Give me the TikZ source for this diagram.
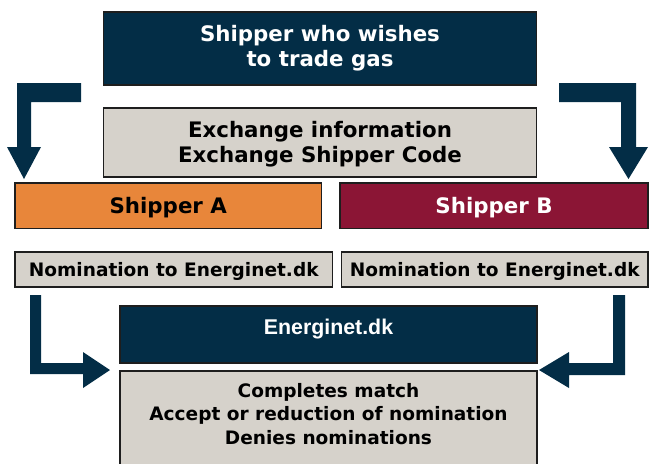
\documentclass[tikz,border=0pt]{standalone}
\usepackage{fontspec}
\setmainfont{DejaVu Sans}
\newfontfamily\arialfam{Liberation Sans}
\definecolor{navy}{RGB}{3,45,70}
\definecolor{boxgray}{RGB}{214,210,203}
\definecolor{shiporange}{RGB}{232,134,58}
\definecolor{shipred}{RGB}{139,21,53}
\definecolor{edge}{RGB}{30,30,30}
\begin{document}
\begin{tikzpicture}[x=0.75pt,y=-0.75pt,
  box/.style={rectangle, draw=edge, line width=1.3pt, inner sep=0pt},
  bigtxt/.style={font=\fontsize{16}{19}\selectfont\bfseries, align=center},
  smalltxt/.style={font=\fontsize{13.9}{17.6}\selectfont\bfseries, align=center},
  arrowfill/.style={fill=navy}
]
\useasboundingbox (0,0) rectangle (650,464);
\clip (0,0) rectangle (650,464);

% boxes
\node[box, fill=navy, minimum width=324.75pt, minimum height=54.75pt,
  label={[bigtxt, text=white, yshift=0.4pt]center:{Shipper who wishes\\to trade gas}}]
  (top) at (320,48.5) {};
\node[box, fill=boxgray, minimum width=324.75pt, minimum height=51.75pt,
  label={[bigtxt, yshift=-1.4pt]center:{Exchange information\\Exchange Shipper Code}}]
  (exch) at (320,142.5) {};
\node[box, fill=shiporange, minimum width=229.9pt, minimum height=34.1pt,
  label={[bigtxt, yshift=-1.5pt]center:{Shipper A}}]
  (shipA) at (168.25,205.75) {};
\node[box, fill=shipred, minimum width=231pt, minimum height=34.1pt,
  label={[bigtxt, text=white, yshift=-1.5pt]center:{Shipper B}}]
  (shipB) at (494,205.75) {};
\node[box, fill=boxgray, minimum width=238.1pt, minimum height=26.25pt,
  label={[smalltxt, yshift=-1.8pt]center:{Nomination to Energinet.dk}}]
  (nomA) at (173.75,269.5) {};
\node[box, fill=boxgray, minimum width=229.9pt, minimum height=26.25pt,
  label={[smalltxt, yshift=-1.8pt]center:{Nomination to Energinet.dk}}]
  (nomB) at (494.75,269.5) {};
\node[box, fill=navy, minimum width=312.75pt, minimum height=42.75pt]
  (ener) at (328.5,334.5) {};
\node[text=white, font=\fontsize{16}{18}\selectfont\arialfam\bfseries]
  (enertxt) at (328.5,329.5) {Energinet.dk};
\node[box, fill=boxgray, minimum width=312.75pt, minimum height=75.75pt]
  (result) at (328.5,421.5) {};
\node[smalltxt]
  (resulttxt) at (328.5,414) {Completes match\\Accept or reduction of nomination\\Denies nominations};

% block arrows
\fill[arrowfill] (81,83) -- (17,83) -- (17,147) -- (7,147) -- (24,179) -- (41,147)
  -- (31,147) -- (31,102) -- (81,102) -- cycle;
\fill[arrowfill] (559,83) -- (636,83) -- (636,147) -- (648,147) -- (628.5,179) -- (609,147)
  -- (621,147) -- (621,102) -- (559,102) -- cycle;
\fill[arrowfill] (30,295) -- (41,295) -- (41,363) -- (83,363) -- (83,352) -- (110,370)
  -- (83,388) -- (83,374) -- (30,374) -- cycle;
\fill[arrowfill] (625,295) -- (613,295) -- (613,363) -- (569,363) -- (569,352) -- (539,370)
  -- (569,388) -- (569,375) -- (625,375) -- cycle;
\end{tikzpicture}
\end{document}
